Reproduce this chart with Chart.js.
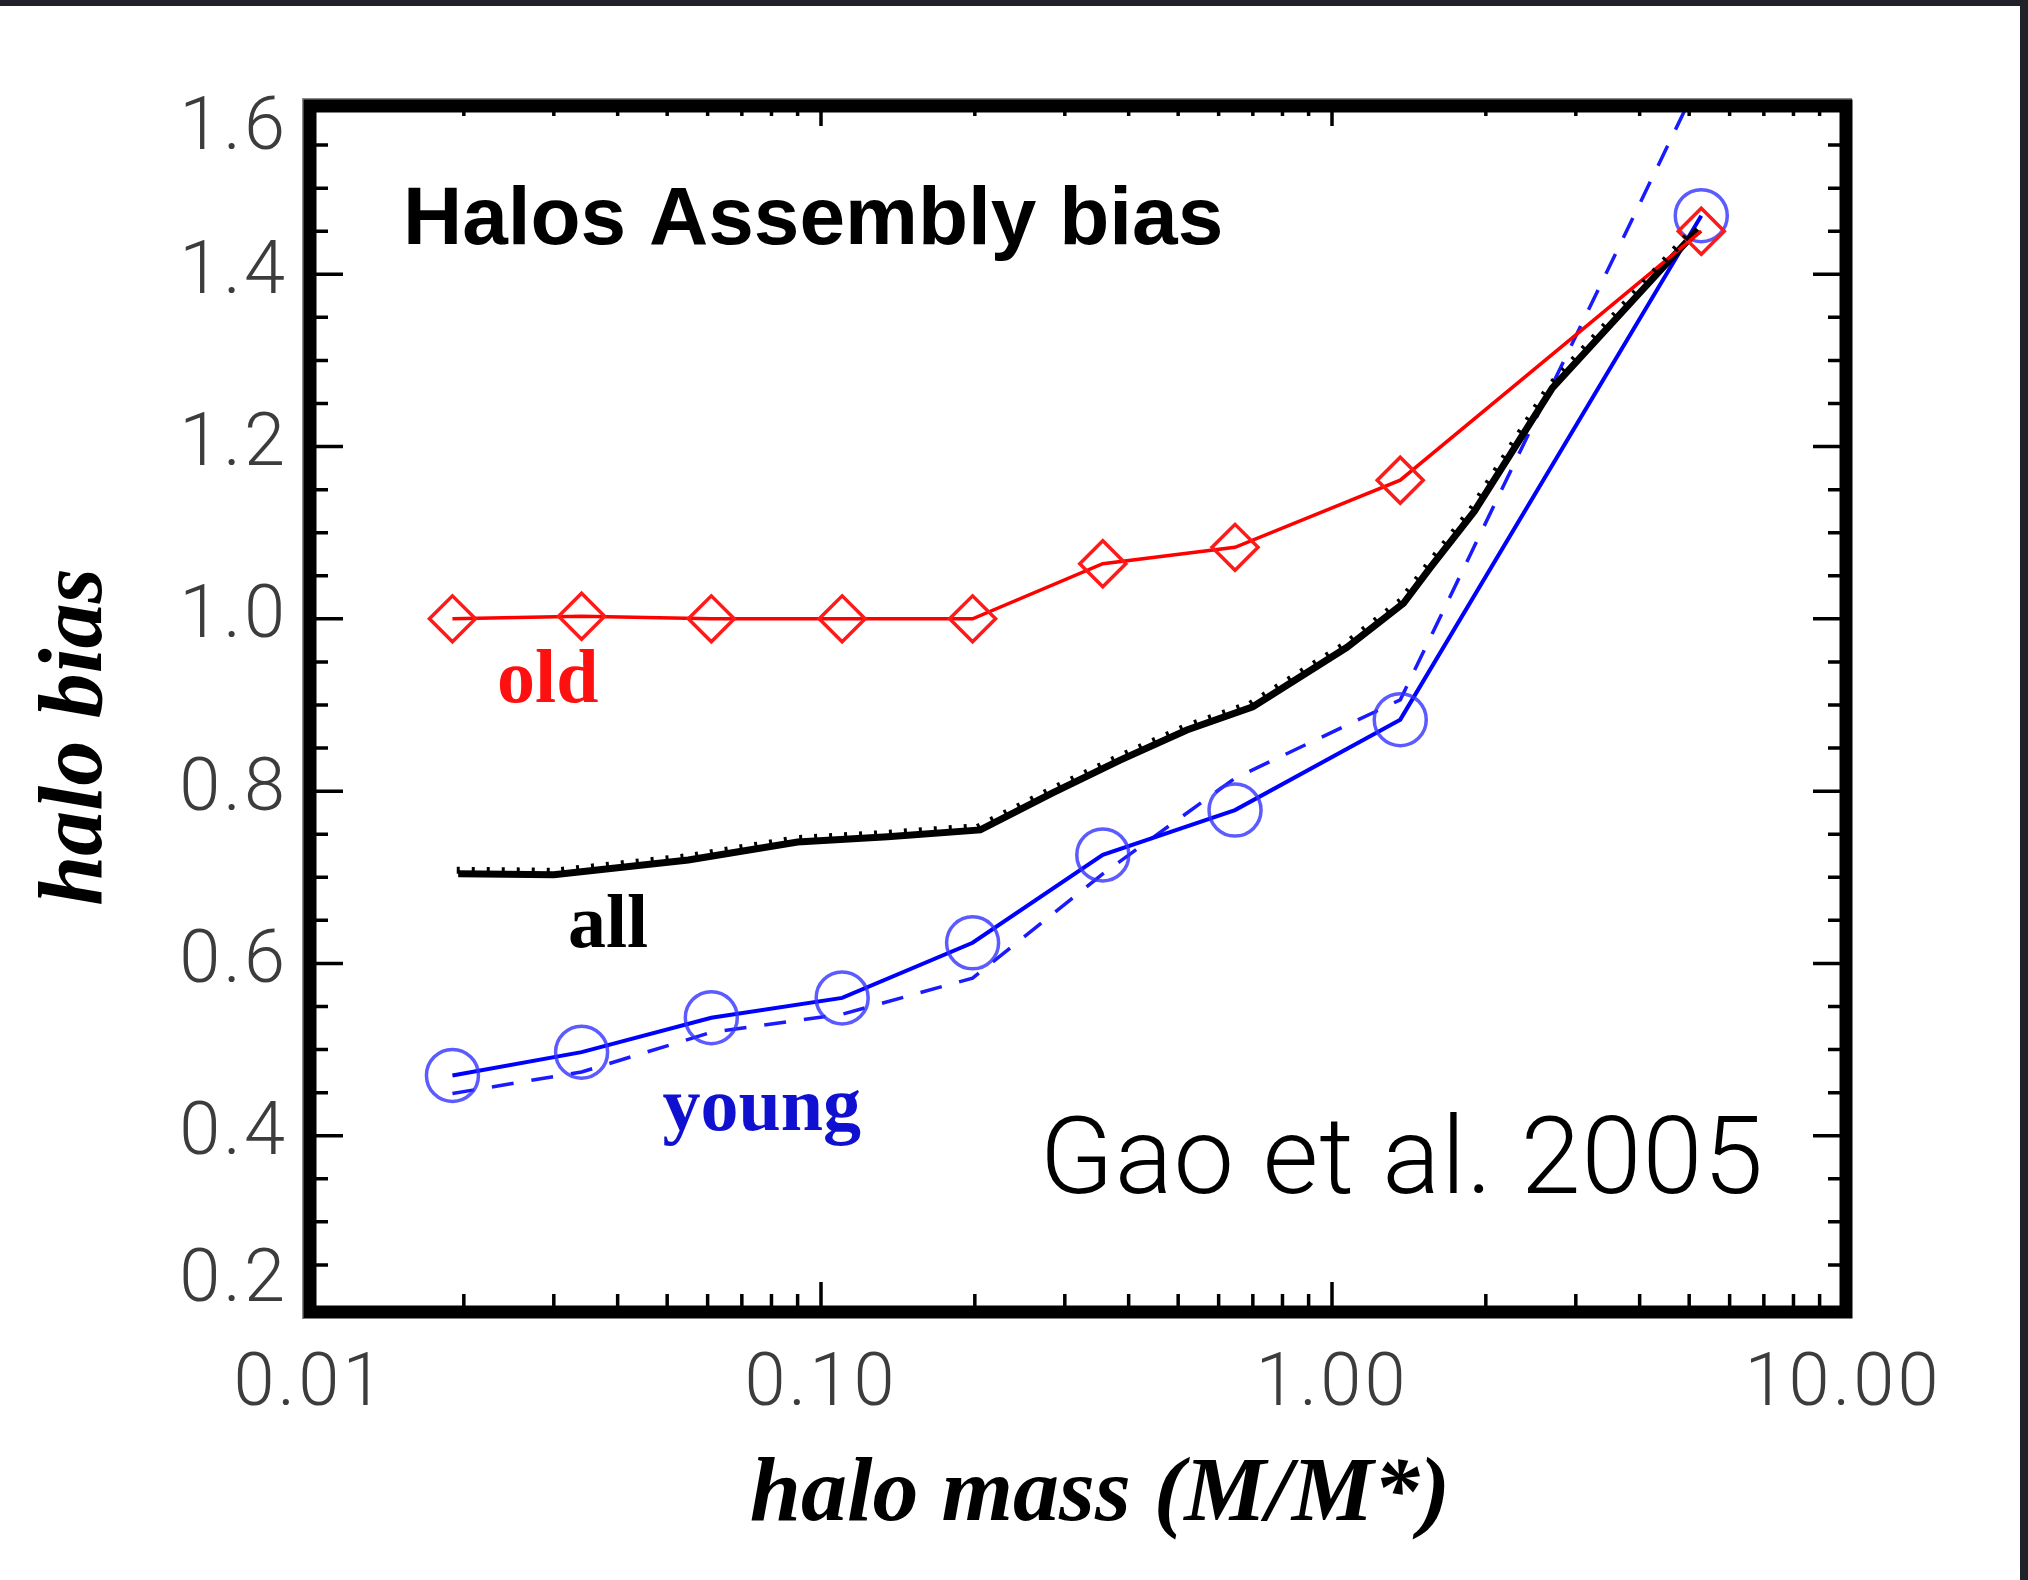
<!DOCTYPE html>
<html>
<head>
<meta charset="utf-8">
<title>Halos Assembly bias</title>
<script src="https://cdn.jsdelivr.net/npm/chart.js@4.4.1/dist/chart.umd.min.js"></script>
<style>
    html, body { margin: 0; padding: 0; background: #ffffff; }
    canvas { display: block; }
</style>
</head>
<body>
<canvas id="bias-chart" width="2028" height="1580"></canvas>
<script>
// halo mass bins (M/M*) shared by the old / young samples
const massBins = [0.019, 0.034, 0.061, 0.110, 0.198, 0.356, 0.646, 1.36, 5.28];
const biasOld = [1.000, 1.003, 1.000, 1.000, 1.000, 1.064, 1.083, 1.161, 1.450];
const biasYoung = [0.470, 0.497, 0.537, 0.560, 0.624, 0.726, 0.778, 0.883, 1.468];
const biasYoungDashed = [0.449, 0.474, 0.520, 0.541, 0.583, 0.704, 0.815, 0.906, 1.630];

// all haloes, finer sampling
const massAll = [0.0195, 0.030, 0.055, 0.090, 0.135, 0.205, 0.284, 0.385, 0.52, 0.70, 1.07, 1.38, 1.56, 1.90, 2.70, 5.2];
const biasAll = [0.704, 0.703, 0.720, 0.741, 0.747, 0.755, 0.798, 0.836, 0.871, 0.898, 0.967, 1.018, 1.060, 1.125, 1.268, 1.452];

const xTickValues = [0.01, 0.1, 1, 10];
const xTickLabels = ['0.01', '0.10', '1.00', '10.00'];
const yTickValues = [0.2, 0.4, 0.6, 0.8, 1.0, 1.2, 1.4, 1.6];
const yTickLabels = ['0.2', '0.4', '0.6', '0.8', '1.0', '1.2', '1.4', '1.6'];

function toPoints(xs, ys) {
    return xs.map((x, i) => ({x: x, y: ys[i]}));
}

// tiny ragged ticks along the top of the "all" curve
function drawHatch(ctx, pts) {
    const step = 15, len = 7;
    let carry = 0;
    ctx.save();
    ctx.strokeStyle = '#000';
    ctx.lineWidth = 3;
    ctx.beginPath();
    for (let i = 0; i < pts.length - 1; i++) {
        const x0 = pts[i].x, y0 = pts[i].y;
        const dx = pts[i + 1].x - x0, dy = pts[i + 1].y - y0;
        const segLen = Math.hypot(dx, dy);
        const ux = dx / segLen, uy = dy / segLen;
        let d = carry;
        while (d < segLen) {
            const px = x0 + ux * d, py = y0 + uy * d;
            ctx.moveTo(px, py);
            ctx.lineTo(px + uy * len, py - ux * len);
            d += step;
        }
        carry = d - segLen;
    }
    ctx.stroke();
    ctx.restore();
}

const plotDecor = {
    id: 'plotDecor',
    beforeDraw(chart) {
        const ctx = chart.ctx;
        ctx.save();
        ctx.fillStyle = '#ffffff';
        ctx.fillRect(0, 0, chart.width, chart.height);
        // dark page edge on top and right
        ctx.fillStyle = '#21212a';
        ctx.fillRect(0, 0, chart.width, 6);
        ctx.fillRect(chart.width - 8, 0, 8, chart.height);
        ctx.restore();
    },
    afterDatasetsDraw(chart) {
        const ctx = chart.ctx;
        const area = chart.chartArea;
        const xs = chart.scales.x, ys = chart.scales.y;

        // hatch on the "all" line
        const allMeta = chart.getDatasetMeta(1);
        drawHatch(ctx, allMeta.data.map(p => ({x: p.x, y: p.y})));

        ctx.save();
        // heavy frame
        ctx.strokeStyle = '#8a8a8a';
        ctx.lineWidth = 2;
        ctx.beginPath();
        ctx.moveTo(area.left - 7, area.bottom + 11);
        ctx.lineTo(area.left - 7, area.top - 3);
        ctx.lineTo(area.right + 9, area.top - 3);
        ctx.stroke();
        ctx.strokeStyle = '#000';
        ctx.lineWidth = 13;
        ctx.strokeRect(area.left, area.top + 4, area.width + 3, area.height);

        ctx.lineWidth = 3.5;
        ctx.beginPath();
        // y ticks on left and right: major every 0.2, minor every 0.05
        for (let v = 0.2; v <= 1.6001; v += 0.05) {
            const y = ys.getPixelForValue(v);
            const major = Math.abs(v * 5 - Math.round(v * 5)) < 1e-6;
            const len = major ? 33 : 18;
            if (y < area.top + 8 || y > area.bottom - 4) continue;
            ctx.moveTo(area.left, y);
            ctx.lineTo(area.left + len, y);
            ctx.moveTo(area.right + 3, y);
            ctx.lineTo(area.right + 3 - len, y);
        }
        // log x ticks on bottom and top
        for (let e = -2; e < 1; e++) {
            for (let m = 1; m <= 9; m++) {
                const v = m * Math.pow(10, e);
                const x = xs.getPixelForValue(v);
                if (x < area.left + 8) continue;
                const major = m === 1;
                ctx.moveTo(x, area.bottom);
                ctx.lineTo(x, area.bottom - (major ? 26 : 14));
                ctx.moveTo(x, area.top + 6);
                ctx.lineTo(x, area.top + 6 + (major ? 18 : 8));
            }
        }
        ctx.stroke();

        // tick labels
        ctx.fillStyle = '#3c3c3c';
        ctx.font = '300 74px Roboto, "Liberation Sans", sans-serif';
        ctx.letterSpacing = '3px';
        ctx.textAlign = 'center';
        ctx.textBaseline = 'middle';
        xTickValues.forEach((v, i) => {
            ctx.fillText(xTickLabels[i], xs.getPixelForValue(v), 1386);
        });
        ctx.textAlign = 'right';
        yTickValues.forEach((v, i) => {
            let y = ys.getPixelForValue(v);
            y = Math.min(Math.max(y, area.top + 28), area.bottom - 26);
            ctx.fillText(yTickLabels[i], area.left - 22, y);
        });
        ctx.letterSpacing = '0px';

        // axis titles
        ctx.fillStyle = '#000';
        ctx.textBaseline = 'alphabetic';
        ctx.textAlign = 'center';
        ctx.font = 'bold italic 92px "Liberation Serif", serif';
        ctx.fillText('halo mass (M/M*)', 1100, 1520);
        ctx.save();
        ctx.translate(101, 737);
        ctx.rotate(-Math.PI / 2);
        ctx.font = 'bold italic 90px "Liberation Serif", serif';
        ctx.fillText('halo bias', 0, 0);
        ctx.restore();

        // in-plot annotations, placed in data coordinates
        ctx.textAlign = 'left';
        ctx.font = 'bold 82px "Liberation Sans", sans-serif';
        ctx.fillText('Halos Assembly bias', xs.getPixelForValue(0.0152), ys.getPixelForValue(1.4355));

        ctx.font = '300 108px Roboto, "Liberation Sans", sans-serif';
        ctx.letterSpacing = '1px';
        ctx.fillText('Gao et al. 2005', xs.getPixelForValue(0.268), ys.getPixelForValue(0.333));
        ctx.letterSpacing = '0px';

        ctx.textAlign = 'center';
        ctx.font = 'bold 76px "Liberation Serif", serif';
        ctx.fillStyle = '#ff1010';
        ctx.fillText('old', xs.getPixelForValue(0.0292), ys.getPixelForValue(0.904));
        ctx.fillStyle = '#000';
        ctx.fillText('all', xs.getPixelForValue(0.0383), ys.getPixelForValue(0.619));
        ctx.fillStyle = '#1010d0';
        ctx.fillText('young', xs.getPixelForValue(0.0766), ys.getPixelForValue(0.4065));
        ctx.restore();
    }
};

const config = {
    type: 'line',
    data: {
        datasets: [
            {
                label: 'old',
                data: toPoints(massBins, biasOld),
                borderColor: '#ff0000',
                borderWidth: 3.5,
                pointStyle: 'rectRot',
                pointRadius: 23,
                pointBorderWidth: 3.5,
                pointBorderColor: '#ff1a1a',
                pointBackgroundColor: 'rgba(0,0,0,0)',
            },
            {
                label: 'all',
                data: toPoints(massAll, biasAll),
                borderColor: '#000000',
                borderWidth: 7,
                pointRadius: 0,
            },
            {
                label: 'young',
                data: toPoints(massBins, biasYoung),
                borderColor: '#0000ff',
                borderWidth: 4,
                pointStyle: 'circle',
                pointRadius: 26,
                pointBorderWidth: 3.5,
                pointBorderColor: 'rgba(50,50,255,0.8)',
                pointBackgroundColor: 'rgba(0,0,0,0)',
            },
            {
                label: 'young (dashed)',
                data: toPoints(massBins, biasYoungDashed),
                borderColor: '#1a1aff',
                borderWidth: 3.5,
                borderDash: [22, 18],
                pointRadius: 0,
            }
        ]
    },
    options: {
        responsive: false,
        animation: false,
        devicePixelRatio: 1,
        layout: {
            padding: {left: 310, right: 185, top: 102, bottom: 272}
        },
        plugins: {
            legend: {display: false},
            title: {display: false},
            tooltip: {enabled: false}
        },
        scales: {
            x: {
                type: 'logarithmic',
                min: 0.01,
                max: 10,
                display: false
            },
            y: {
                type: 'linear',
                min: 0.2,
                max: 1.6,
                display: false
            }
        }
    },
    plugins: [plotDecor]
};

const chart = new Chart(document.getElementById('bias-chart'), config);
</script>
</body>
</html>
